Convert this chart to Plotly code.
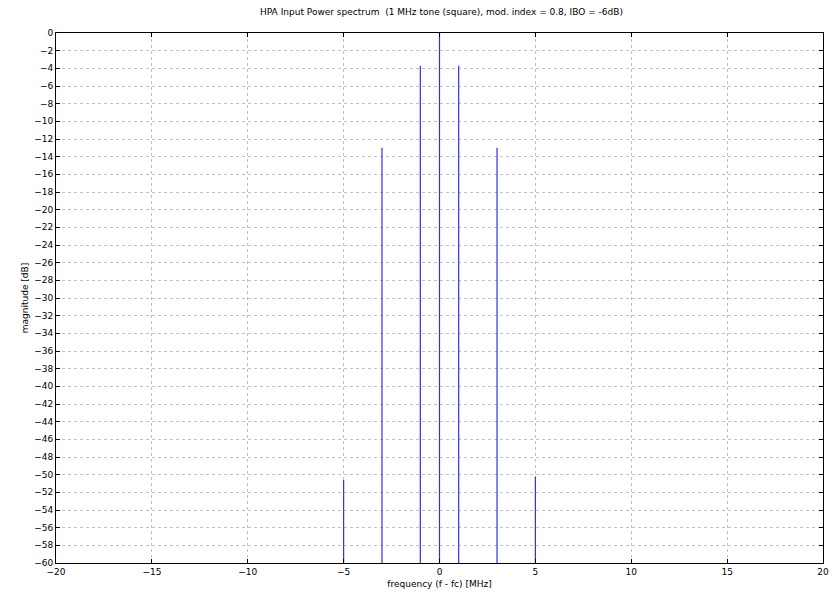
import plotly.graph_objects as go

freqs = [-5, -3, -1, 0, 1, 3, 5]
mags = [-50.6, -13.0, -3.7, 0.0, -3.7, -13.0, -50.2]
floor_db = -60

xs, ys = [], []
for f, m in zip(freqs, mags):
    xs += [f, f, None]
    ys += [floor_db, m, None]

fig = go.Figure()
fig.add_trace(go.Scatter(x=xs, y=ys, mode="lines",
                         line=dict(color="#3030f0", width=1.2),
                         hoverinfo="skip", showlegend=False))

font = dict(family="DejaVu Sans", size=9, color="black")
fig.update_layout(
    width=833, height=605,
    margin=dict(l=56, r=10, t=33, b=42, autoexpand=False),
    plot_bgcolor="white", paper_bgcolor="white",
    title=dict(text="HPA Input Power spectrum  (1 MHz tone (square), mod. index = 0.8, IBO = -6dB)",
               x=0.53, xanchor="center", y=0.985, yanchor="top",
               font=dict(family="DejaVu Sans", size=9, color="black")),
    font=font,
)
fig.update_xaxes(range=[-20, 20], dtick=5, tick0=-20, automargin=False,
                 showgrid=True, gridcolor="#c0c0c0", griddash="dot", gridwidth=1,
                 ticks="inside", ticklen=4, tickcolor="black",
                 showline=True, linecolor="black", linewidth=1, mirror="ticks",
                 zeroline=False,
                 title=dict(text="frequency (f - fc) [MHz]", font=font, standoff=4),
                 tickfont=font)
fig.update_yaxes(range=[-60, 0], dtick=2, tick0=0, automargin=False,
                 showgrid=True, gridcolor="#c0c0c0", griddash="dot", gridwidth=1,
                 ticks="inside", ticklen=4, tickcolor="black",
                 showline=True, linecolor="black", linewidth=1, mirror="ticks",
                 zeroline=False,
                 title=dict(text="magnitude [dB]", font=font, standoff=4),
                 tickfont=font)

fig.write_html("out.html")
